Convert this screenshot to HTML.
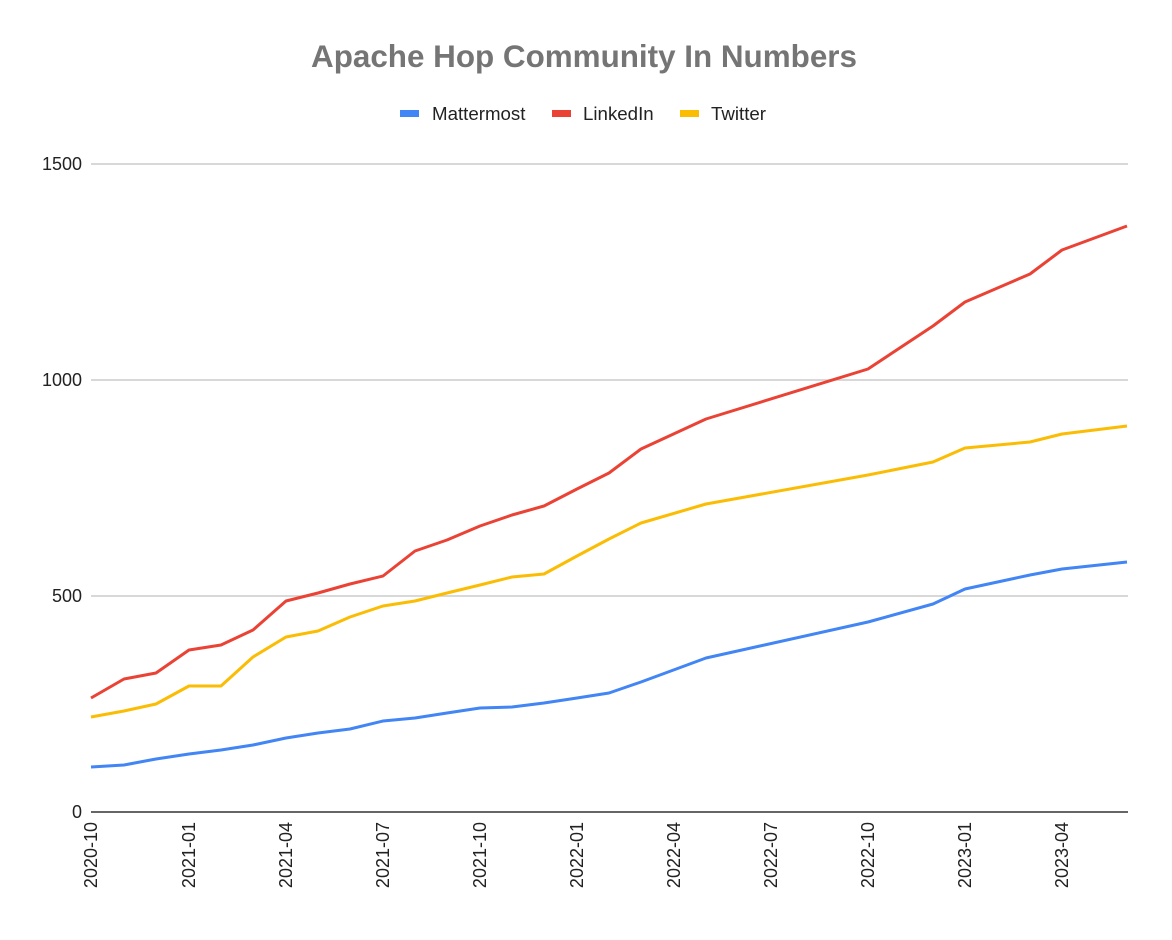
<!DOCTYPE html>
<html><head><meta charset="utf-8"><style>body{margin:0;background:#fff}</style></head>
<body>
<svg width="1172" height="935" xmlns="http://www.w3.org/2000/svg" font-family="Liberation Sans, Arial, sans-serif">
<rect width="1172" height="935" fill="#fff"/>
<text x="584" y="67" text-anchor="middle" font-size="31.4" font-weight="bold" fill="#757575">Apache Hop Community In Numbers</text>
<rect x="400" y="110" width="19" height="7" fill="#4285f4"/><text x="432" y="120" font-size="18.7" fill="#222">Mattermost</text>
<rect x="552" y="110" width="19" height="7" fill="#ea4335"/><text x="583" y="120" font-size="18.7" fill="#222">LinkedIn</text>
<rect x="680" y="110" width="19" height="7" fill="#fbbc04"/><text x="711" y="120" font-size="18.7" fill="#222">Twitter</text>
<g stroke="#ccc" stroke-width="1.5"><line x1="91" y1="164" x2="1128" y2="164"/><line x1="91" y1="380" x2="1128" y2="380"/><line x1="91" y1="596" x2="1128" y2="596"/></g>
<line x1="91" y1="812" x2="1128" y2="812" stroke="#333" stroke-width="1.5"/>
<g font-size="18" fill="#222" text-anchor="end"><text x="82" y="170">1500</text><text x="82" y="386">1000</text><text x="82" y="602">500</text><text x="82" y="818">0</text></g>
<g font-size="18" fill="#222" text-anchor="end">
<text transform="translate(97,822) rotate(-90)">2020-10</text>
<text transform="translate(195,822) rotate(-90)">2021-01</text>
<text transform="translate(292,822) rotate(-90)">2021-04</text>
<text transform="translate(389,822) rotate(-90)">2021-07</text>
<text transform="translate(486,822) rotate(-90)">2021-10</text>
<text transform="translate(583,822) rotate(-90)">2022-01</text>
<text transform="translate(680,822) rotate(-90)">2022-04</text>
<text transform="translate(777,822) rotate(-90)">2022-07</text>
<text transform="translate(874,822) rotate(-90)">2022-10</text>
<text transform="translate(971,822) rotate(-90)">2023-01</text>
<text transform="translate(1068,822) rotate(-90)">2023-04</text>
</g>
<g fill="none" stroke-width="3" stroke-linejoin="round">
<polyline stroke="#4285f4" points="91,767 124,765 156,759 189,754 221,750 253,745 286,738 318,733 350,729 383,721 415,718 447,713 480,708 512,707 544,703 577,698 609,693 641,682 706,658 868,622 933,604 965,589 1030,575 1062,569 1127,562"/>
<polyline stroke="#fbbc04" points="91,717 124,711 156,704 189,686 221,686 253,657 286,637 318,631 350,617 383,606 415,601 447,593 480,585 512,577 544,574 577,556 609,539 641,523 706,504 868,475 933,462 965,448 1030,442 1062,434 1127,426"/>
<polyline stroke="#ea4335" points="91,698 124,679 156,673 189,650 221,645 253,630 286,601 318,593 350,584 383,576 415,551 447,540 480,526 512,515 544,506 577,489 609,473 641,449 706,419 868,369 933,326 965,302 1030,274 1062,250 1127,226"/>
</g>
</svg>
</body></html>
